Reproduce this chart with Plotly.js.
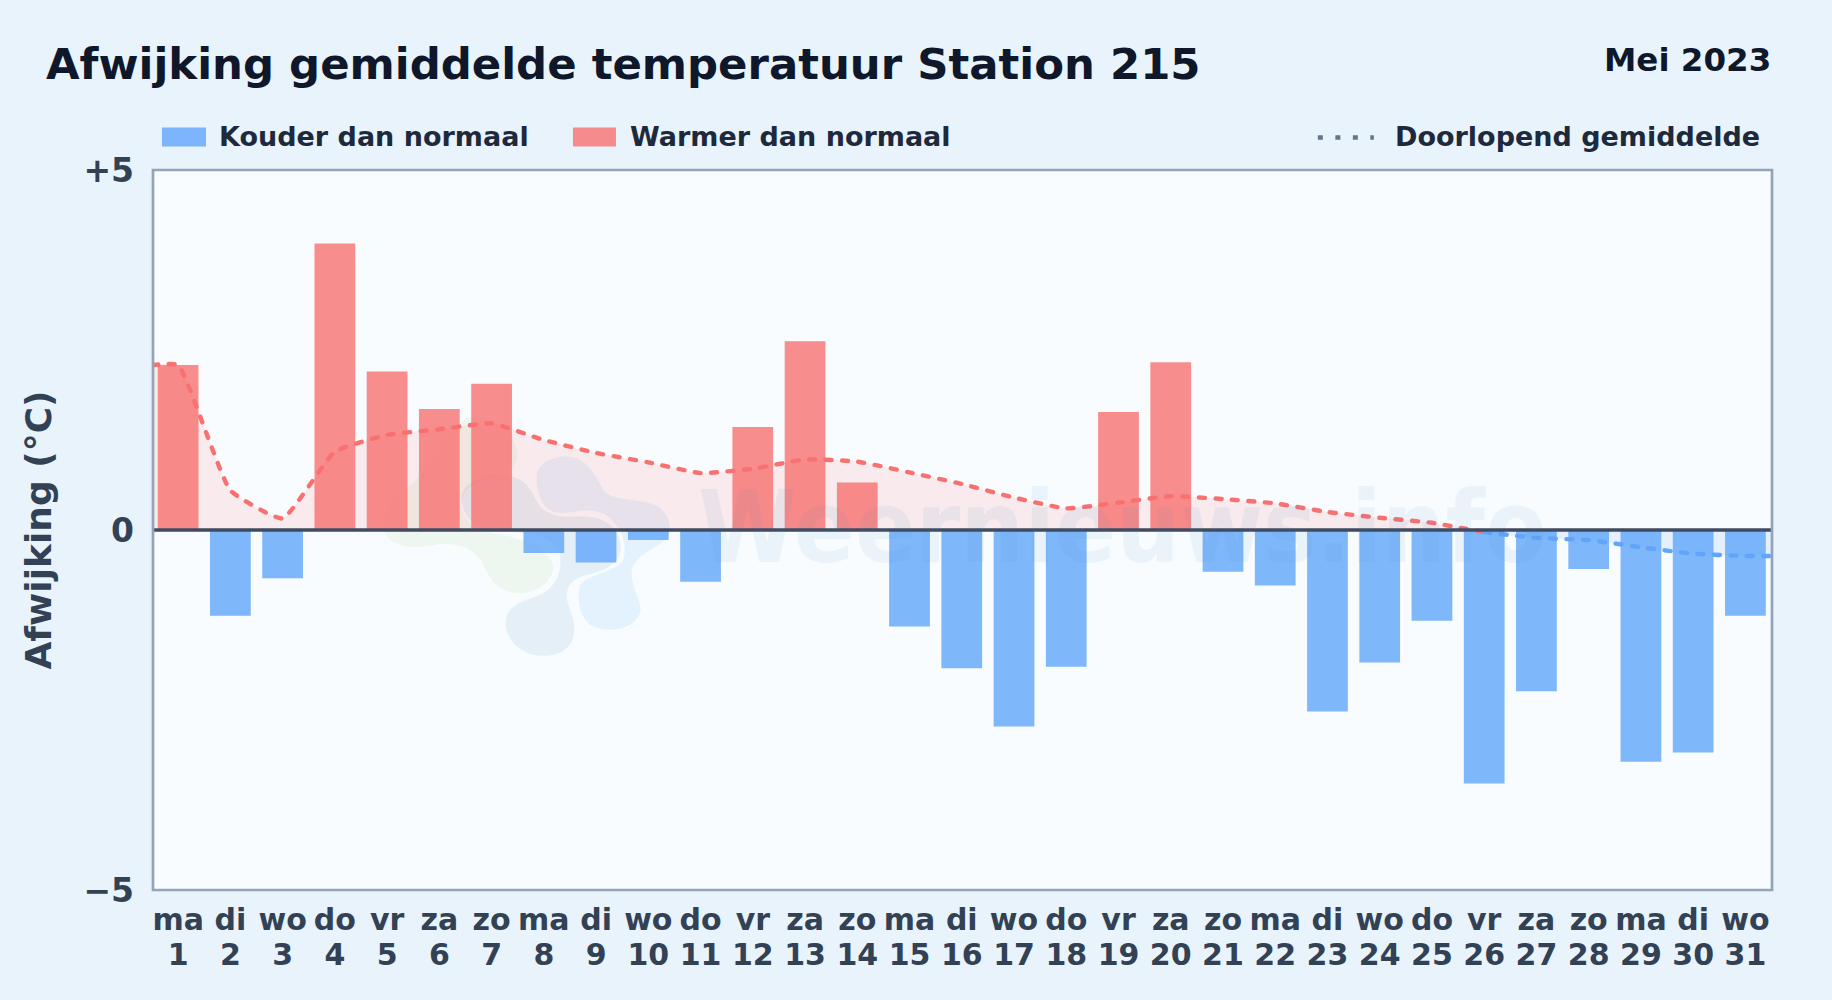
<!DOCTYPE html>
<html><head><meta charset="utf-8">
<script src="https://cdn.plot.ly/plotly-3.0.1.min.js"></script>
<style>
html,body{margin:0;padding:0;background:#e8f3fc;overflow:hidden}
#chart{width:1832px;height:1000px}
.scatterlayer .js-line{stroke-linecap:round}
</style></head><body><div id="chart"></div>
<script>
const dagen = [1,2,3,4,5,6,7,8,9,10,11,12,13,14,15,16,17,18,19,20,21,22,23,24,25,26,27,28,29,30,31];
const weekdagen = ["ma","di","wo","do","vr","za","zo","ma","di","wo","do","vr","za","zo","ma","di","wo","do","vr","za","zo","ma","di","wo","do","vr","za","zo","ma","di","wo"];
const afwijking = [2.29,-1.19,-0.67,3.98,2.2,1.68,2.03,-0.32,-0.45,-0.14,-0.72,1.43,2.62,0.66,-1.34,-1.92,-2.73,-1.9,1.64,2.33,-0.58,-0.77,-2.52,-1.84,-1.26,-3.52,-2.24,-0.54,-3.22,-3.09,-1.19];
const gemX = [0.5,1,2,3,4,5,6,7,8,9,10,11,12,13,14,15,16,17,18,19,20,21,22,23,24,25,26];
const gemWarm = [2.29,2.29,0.55,0.16,1.09,1.32,1.40,1.48,1.25,1.07,0.94,0.79,0.85,0.98,0.95,0.80,0.64,0.45,0.30,0.38,0.47,0.43,0.37,0.25,0.17,0.10,-0.03];
const gemXKoud = [26,27,28,29,30,31,31.5];
const gemKoud = [-0.03,-0.11,-0.14,-0.24,-0.33,-0.36,-0.36];
const yTicks = [-5,0,5];
const yLabels = ["−5","0","+5"];

const FONT="DejaVu Sans, sans-serif";
const BLAUW="rgba(96,165,250,0.8)", ROOD="rgba(248,113,113,0.8)";
const koud=dagen.filter((d,i)=>afwijking[i]<0), warm=dagen.filter((d,i)=>afwijking[i]>=0);
const lijn=c=>({color:c,width:4.4,dash:"6px,10.5px",shape:"spline",smoothing:0.4});
const traces=[
 {type:"bar",name:"Kouder dan normaal",x:koud,y:afwijking.filter(v=>v<0),width:0.78,marker:{color:BLAUW,line:{width:0}},showlegend:false},
 {type:"bar",name:"Warmer dan normaal",x:warm,y:afwijking.filter(v=>v>=0),width:0.78,marker:{color:ROOD,line:{width:0}},showlegend:false},
 {type:"scatter",mode:"lines",name:"Doorlopend gemiddelde",x:gemX,y:gemWarm,fill:"tozeroy",fillcolor:"rgba(248,113,113,0.13)",line:lijn("#f87171"),showlegend:false},
 {type:"scatter",mode:"lines",name:"Doorlopend gemiddelde (koud)",x:gemXKoud,y:gemKoud,fill:"tozeroy",fillcolor:"rgba(96,165,250,0.13)",line:lijn("#60a5fa"),showlegend:false},
 {type:"scatter",mode:"none",x:dagen,y:dagen.map(()=>null),xaxis:"x2",showlegend:false,hoverinfo:"skip"}
];
const logo=`<svg xmlns="http://www.w3.org/2000/svg" viewBox="0 0 1832 1000" width="1832" height="1000"><g transform="translate(360 420) scale(.33333)">
<path fill="#a8dc82" fill-opacity=".13" d="M75 340C60 290 90 240 141 204C200 160 240 70 315 -5C380 -30 460 30 470 90C480 130 450 155 420 165C360 180 305 200 305 250C305 300 340 335 430 345C500 360 570 390 580 440C580 490 520 525 470 520C410 515 385 470 365 425C340 385 300 370 240 372C180 385 100 390 75 340Z"/>
<path fill="#5f9ac0" fill-opacity=".13" d="M305 240C300 190 370 160 440 165C490 175 510 200 525 235C550 285 590 292 650 290C720 285 770 310 782 370C790 430 730 455 680 465C620 480 610 520 630 570C660 640 640 710 545 708C470 705 425 640 440 590C455 545 510 540 550 520C600 490 605 440 600 400C590 350 500 335 430 335C360 335 310 300 305 240Z"/>
<path fill="#82c4f5" fill-opacity=".17" d="M530 170C530 130 580 105 630 110C690 120 705 170 735 215C770 245 850 235 895 260C935 290 940 340 910 365C870 395 815 410 815 465C820 520 850 550 840 580C820 630 750 640 700 620C660 600 650 540 660 495C690 460 760 460 790 420C805 370 780 310 730 280C670 255 610 295 570 270C540 250 530 210 530 170Z"/>
</g></svg>`;
const P={l:153,r:59.8,t:169.6,b:109.6}, W=1832-P.l-P.r, H=1000-P.t-P.b;
const mapX=v=>(v-P.l)/W, mapY=v=>(1000-P.b-v)/H;
const tekst=(t,x,y,size,color,anchor,fam)=>({text:t,xref:"paper",yref:"paper",x:mapX(x),y:mapY(y),xanchor:anchor,yanchor:"middle",showarrow:false,font:{family:fam||FONT,size:size,color:color}});
const vak=(o)=>Object.assign({xref:"paper",yref:"paper"},o);
const XR=[0.519,31.509];
const layout={
 width:1832,height:1000,
 paper_bgcolor:"#e8f3fc",plot_bgcolor:"#f8fcff",
 margin:{l:P.l,r:P.r,t:P.t,b:P.b,pad:0},
 font:{family:FONT,size:28,color:"#334155"},
 barmode:"overlay",showlegend:false,
 title:{text:"<b>Afwijking gemiddelde temperatuur Station 215</b>",x:46/1832,xref:"container",xanchor:"left",y:1-64/1000,yanchor:"middle",yref:"container",font:{family:FONT,size:43.4,color:"#0f172a"}},
 xaxis:{range:XR,tickmode:"array",tickvals:dagen,ticktext:weekdagen.map(s=>"<b>"+s+"</b>"),tickangle:0,ticks:"",ticklabelstandoff:9,showgrid:false,zeroline:false,showline:false,tickfont:{family:FONT,size:30,color:"#334155"}},
 xaxis2:{range:XR,overlaying:"x",side:"bottom",anchor:"y",tickmode:"array",tickvals:dagen,ticktext:dagen.map(d=>"<b>"+d+"</b>"),tickangle:0,ticks:"",ticklabelstandoff:44,showgrid:false,zeroline:false,showline:false,tickfont:{family:FONT,size:30,color:"#334155"}},
 yaxis:{range:[-5,5],tickmode:"array",tickvals:yTicks,ticktext:yLabels.map(s=>"<b>"+s+"</b>"),ticks:"",ticklabelstandoff:18,showgrid:false,zeroline:false,showline:false,tickfont:{family:FONT,size:33,color:"#334155"},title:{text:"<b>Afwijking (°C)</b>",standoff:20,font:{family:FONT,size:36,color:"#334155"}},automargin:false},
 images:[{source:"data:image/svg+xml;charset=utf-8,"+encodeURIComponent(logo),xref:"paper",yref:"paper",x:mapX(0),y:mapY(0),sizex:1832/W,sizey:1000/H,xanchor:"left",yanchor:"top",sizing:"stretch",layer:"below"}],
 shapes:[
  {type:"line",xref:"paper",yref:"y",x0:0,x1:1,y0:0,y1:0,line:{color:"#3f4b60",width:3.4},layer:"above"},
  vak({type:"rect",x0:0,x1:1,y0:0,y1:1,line:{color:"#94a3b8",width:2.7},layer:"above"}),
  vak({type:"rect",x0:mapX(162),x1:mapX(206),y0:mapY(127),y1:mapY(146),fillcolor:BLAUW,line:{width:0}}),
  vak({type:"rect",x0:mapX(573),x1:mapX(616),y0:mapY(127),y1:mapY(146),fillcolor:ROOD,line:{width:0}}),
  vak({type:"line",x0:mapX(1318),x1:mapX(1374),y0:mapY(137),y1:mapY(137),line:{color:"#64748b",width:4.5,dash:"5px,12.5px"}})
 ],
 annotations:[
  tekst("<b>Mei 2023</b>",1773,59,32.5,"#0f172a","right"),
  tekst("<b>Kouder dan normaal</b>",217,136.5,27,"#1e293b","left"),
  tekst("<b>Warmer dan normaal</b>",628,136.5,27,"#1e293b","left"),
  tekst("<b>Doorlopend gemiddelde</b>",1393,136.5,27,"#1e293b","left"),
  tekst("<b>Weernieuws.info</b>",1122.5,527,100,"rgba(60,130,190,0.07)","center","DejaVu Sans Condensed, DejaVu Sans")
 ]
};
Plotly.newPlot("chart",traces,layout,{displayModeBar:false,staticPlot:true});
</script></body></html>
